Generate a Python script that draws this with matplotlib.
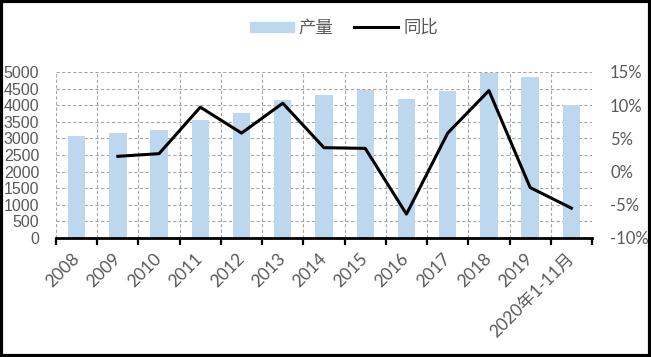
import matplotlib
matplotlib.use("Agg")
import matplotlib.pyplot as plt
from matplotlib.patches import Rectangle
import matplotlib.transforms as mtransforms
import numpy as np

categories = ["2008", "2009", "2010", "2011", "2012", "2013", "2014", "2015",
              "2016", "2017", "2018", "2019", "2020年1-11月"]
output = [3075, 3170, 3255, 3555, 3775, 4155, 4320, 4460, 4190, 4430, 4980, 4860, 4005]
yoy = [np.nan, 2.3, 2.7, 9.7, 5.8, 10.3, 3.6, 3.5, -6.4, 5.8, 12.2, -2.4, -5.5]
left_ticks = list(range(0, 5001, 500))
right_ticks = [-10, -5, 0, 5, 10, 15]

bar_color = "#BDD7EE"
txt = "#595959"
fam = ["Liberation Sans", "Noto Sans CJK SC", "DejaVu Sans"]
plt.rcParams['font.family'] = fam

fig = plt.figure(figsize=(6.51, 3.57), dpi=100)
ax = fig.add_axes([56/651, 1-238/357, (592-56)/651, (238-72)/357])
ax2 = ax.twinx()

x = np.arange(len(categories))
ax.bar(x, output, width=0.42, color=bar_color, zorder=2, label="产量")
ax.set_xlim(-0.5, len(categories)-0.5)
ax.set_ylim(0, 5000)
ax.set_yticks(left_ticks)
ax.set_yticklabels([str(v) for v in left_ticks], fontsize=11.5, color=txt,
                   family=["Liberation Sans"])
ax.tick_params(axis='y', length=0, pad=12)

# grid
for yv in left_ticks[1:]:
    ax.axhline(yv, color="#A6A6A6", lw=0.8, ls=(0, (3, 2)), zorder=1)
for xb in np.arange(-0.5, len(categories), 1.0):
    ax.axvline(xb, color="#A6A6A6", lw=0.8, ls=(0, (3, 2)), zorder=1)

ax.set_xticks(x)
labels = ax.set_xticklabels(categories, rotation=45, ha='right', va='center', rotation_mode='anchor',
                            fontsize=12.5, color=txt, family=["Lato", "Noto Sans CJK SC"])
offset = mtransforms.ScaledTranslation(-3/100, 0, fig.dpi_scale_trans)
for lb in labels:
    lb.set_transform(lb.get_transform() + offset)
ax.tick_params(axis='x', length=0, pad=13)
ax.set_xticks(np.arange(-0.5, len(categories), 1.0), minor=True)
ax.tick_params(axis='x', which='minor', length=5, width=1.6, color='black', direction='out')

for s in ['top', 'right', 'left']:
    ax.spines[s].set_visible(False)
ax.spines['bottom'].set_linewidth(2)
ax.spines['bottom'].set_color('black')
for s in ax2.spines.values():
    s.set_visible(False)

ax2.plot(x, yoy, color='black', lw=2.2, zorder=3, label="同比")
ax2.set_ylim(-10, 15)
ax2.set_yticks(right_ticks)
ax2.set_yticklabels([f"{v}%" for v in right_ticks], fontsize=12, color=txt,
                    family=["Lato", "DejaVu Sans"])
ax2.tick_params(axis='y', length=0, pad=13)
ax.set_zorder(1)
ax2.set_zorder(2)
ax2.patch.set_visible(False)

handles = [Rectangle((0, 0), 1, 1, color=bar_color),
           plt.Line2D([0], [0], color='black', lw=2.2)]
leg = fig.legend(handles, ["产量", "同比"], loc='center', bbox_to_anchor=(344/651, 1-28/357),
                 ncol=2, frameon=False, handlelength=2.5, handleheight=0.5,
                 columnspacing=1.2, handletextpad=0.3,
                 prop={'family': ["Noto Sans CJK SC"], 'size': 12.5})
for t in leg.get_texts():
    t.set_color(txt)

# figure border
fig.patches.append(Rectangle((0.002, 0.003), 0.996, 0.994, transform=fig.transFigure,
                             fill=False, edgecolor='black', lw=3))

fig.savefig("out.png", dpi=100)
